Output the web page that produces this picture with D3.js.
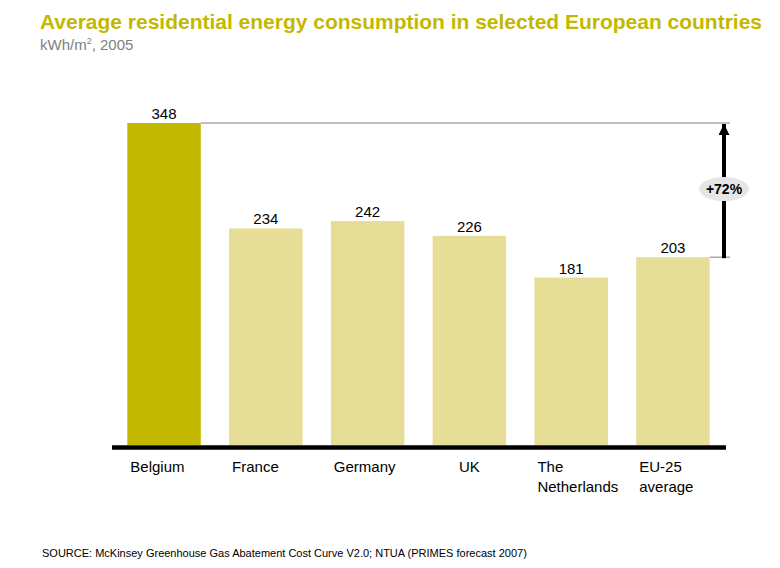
<!DOCTYPE html>
<html>
<head>
<meta charset="utf-8">
<script src="https://cdn.jsdelivr.net/npm/d3@7"></script>
<style>
  body { margin: 0; background: #fff; }
  text { font-family: Arial, "Liberation Sans", sans-serif; }
</style>
</head>
<body>
<script>
(function(d3) {
    'use strict';

    var categories = ['Belgium', 'France', 'Germany', 'UK', 'The\nNetherlands', 'EU-25\naverage'];
    var values = [348, 234, 242, 226, 181, 203];
    var highlight = 'Belgium';
    var compareFrom = 'EU-25\naverage';
    var deltaLabel = '+72%';
    var centredLabels = ['UK'];

    var settings = {
        width: 780,
        height: 568,
        left: 110,
        right: 727,
        baseline: 445,
        top: 123,
        refX: 724,
        dark: '#c3b800',
        light: '#e6dd96'
    };

    var svg = d3.select('body')
        .append('svg')
        .attr('width', settings.width)
        .attr('height', settings.height);

    var x = d3.scaleBand()
        .domain(categories)
        .range([settings.left, settings.right])
        .paddingInner(0.278)
        .paddingOuter(0.17);

    var maxVal = d3.max(values);
    var y = d3.scaleLinear()
        .domain([0, maxVal])
        .range([settings.baseline, settings.top]);

    // title
    svg.append('text')
        .attr('x', 40)
        .attr('y', 29)
        .attr('fill', settings.dark)
        .attr('font-weight', 'bold')
        .attr('font-size', '21px')
        .attr('textLength', 722)
        .attr('lengthAdjust', 'spacingAndGlyphs')
        .text('Average residential energy consumption in selected European countries');

    var sub = svg.append('text')
        .attr('x', 40)
        .attr('y', 50)
        .attr('fill', '#808080')
        .attr('font-size', '15px');
    sub.append('tspan').text('kWh/m');
    sub.append('tspan').attr('font-size', '9px').attr('dy', -6).text('2');
    sub.append('tspan').attr('dy', 6).text(', 2005');

    var data = categories.map(function(c, i) { return { name: c, value: values[i] }; });

    // reference lines
    var hi = data.filter(function(d) { return d.name === highlight; })[0];
    var lo = data.filter(function(d) { return d.name === compareFrom; })[0];

    svg.append('line')
        .attr('x1', x(hi.name) + x.bandwidth())
        .attr('x2', settings.refX + 6)
        .attr('y1', y(hi.value))
        .attr('y2', y(hi.value))
        .attr('stroke', '#808080')
        .attr('stroke-width', 1);

    svg.append('line')
        .attr('x1', x(lo.name) + x.bandwidth())
        .attr('x2', settings.refX + 6)
        .attr('y1', y(lo.value))
        .attr('y2', y(lo.value))
        .attr('stroke', '#808080')
        .attr('stroke-width', 1);

    svg.append('defs').append('marker')
        .attr('id', 'arrow')
        .attr('viewBox', '0 0 10 10')
        .attr('refX', 10)
        .attr('refY', 5)
        .attr('markerUnits', 'userSpaceOnUse')
        .attr('markerWidth', 12)
        .attr('markerHeight', 11)
        .attr('orient', 'auto')
        .append('path')
        .attr('d', 'M0,0 L10,5 L0,10 Z')
        .attr('fill', '#000');

    svg.append('line')
        .attr('x1', settings.refX)
        .attr('x2', settings.refX)
        .attr('y1', y(lo.value) + 1)
        .attr('y2', y(hi.value) + 1)
        .attr('stroke', '#000')
        .attr('stroke-width', 4)
        .attr('marker-end', 'url(#arrow)');

    var midY = (y(lo.value) + y(hi.value)) / 2 - 1;
    svg.append('ellipse')
        .attr('cx', settings.refX)
        .attr('cy', midY)
        .attr('rx', 25)
        .attr('ry', 12)
        .attr('fill', '#e6e6e6');

    svg.append('text')
        .attr('x', settings.refX)
        .attr('y', midY + 5)
        .attr('text-anchor', 'middle')
        .attr('font-weight', 'bold')
        .attr('font-size', '14px')
        .attr('fill', '#000')
        .text(deltaLabel);

    // bars
    var bar = svg.selectAll('g.bar')
        .data(data)
        .enter()
        .append('g')
        .attr('class', 'bar');

    bar.append('rect')
        .attr('x', function(d) { return x(d.name); })
        .attr('y', function(d) { return y(d.value); })
        .attr('width', x.bandwidth())
        .attr('height', function(d) { return y(0) - y(d.value); })
        .attr('fill', function(d) { return d.name === highlight ? settings.dark : settings.light; });

    bar.append('text')
        .attr('x', function(d) { return x(d.name) + x.bandwidth() / 2; })
        .attr('y', function(d) { return y(d.value) - 4; })
        .attr('text-anchor', 'middle')
        .attr('font-size', '15px')
        .attr('fill', '#000')
        .text(function(d) { return d.value; });

    // category labels
    bar.append('text')
        .attr('font-size', '15px')
        .attr('fill', '#000')
        .attr('text-anchor', function(d) { return centredLabels.indexOf(d.name) >= 0 ? 'middle' : 'start'; })
        .each(function(d) {
            var t = d3.select(this);
            var lx = centredLabels.indexOf(d.name) >= 0 ? x(d.name) + x.bandwidth() / 2 : x(d.name) + 3;
            d.name.split('\n').forEach(function(line, i) {
                t.append('tspan')
                    .attr('x', lx)
                    .attr('y', settings.baseline + 27 + i * 20)
                    .text(line);
            });
        });

    // axis line
    svg.append('line')
        .attr('x1', 112)
        .attr('x2', 726)
        .attr('y1', settings.baseline + 2.5)
        .attr('y2', settings.baseline + 2.5)
        .attr('stroke', '#000')
        .attr('stroke-width', 4.5);

    svg.append('text')
        .attr('x', 42)
        .attr('y', 557)
        .attr('font-size', '11px')
        .attr('fill', '#000')
        .text('SOURCE: McKinsey Greenhouse Gas Abatement Cost Curve V2.0; NTUA (PRIMES forecast 2007)');

})(window.d3);
</script>
</body>
</html>
